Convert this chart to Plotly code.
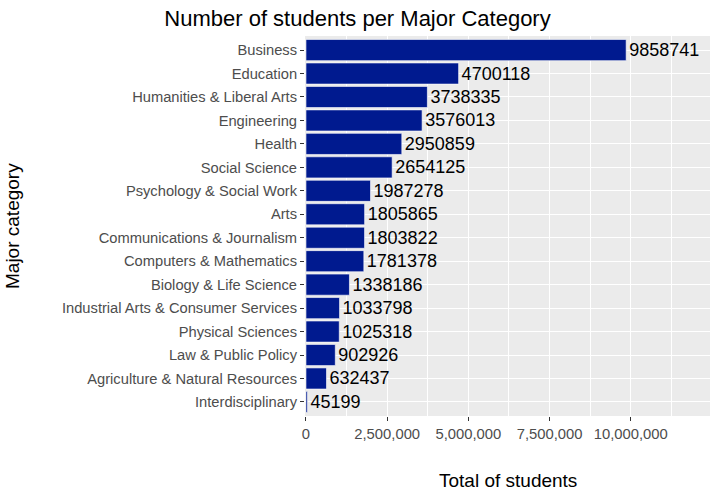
import plotly.graph_objects as go

categories = ["Business", "Education", "Humanities & Liberal Arts", "Engineering", "Health",
              "Social Science", "Psychology & Social Work", "Arts", "Communications & Journalism",
              "Computers & Mathematics", "Biology & Life Science", "Industrial Arts & Consumer Services",
              "Physical Sciences", "Law & Public Policy", "Agriculture & Natural Resources",
              "Interdisciplinary"]
totals = [9858741, 4700118, 3738335, 3576013, 2950859, 2654125, 1987278, 1805865, 1803822,
          1781378, 1338186, 1033798, 1025318, 902926, 632437, 45199]
x_tickvals = [0, 2500000, 5000000, 7500000, 10000000]
x_ticktext = ["0", "2,500,000", "5,000,000", "7,500,000", "10,000,000"]

FONT = "Liberation Sans, Arial, Helvetica, sans-serif"
cats_rev = categories[::-1]

fig = go.Figure(go.Bar(
    x=totals, y=categories, orientation="h",
    marker=dict(color="#001a8f", line=dict(color="white", width=0.6)),
    width=0.9,
    text=[str(v) for v in totals], textposition="outside",
    textfont=dict(family=FONT, size=18, color="black"),
    cliponaxis=False,
))

fig.update_layout(
    width=715, height=492,
    margin=dict(l=305, r=5, t=36, b=76, autoexpand=False),
    paper_bgcolor="white", plot_bgcolor="#ebebeb",
    font=dict(family=FONT),
    title=dict(text="Number of students per Major Category", x=0.5, xanchor="center",
               y=1 - 18 / 492, yanchor="middle", font=dict(size=22, color="black")),
    showlegend=False,
    bargap=0.1,
)
fig.update_xaxes(
    range=[-30000, 12440000], tickvals=x_tickvals, ticktext=x_ticktext,
    showgrid=True, gridcolor="white", gridwidth=1.1,
    minor=dict(dtick=1250000, tick0=0, showgrid=True, gridcolor="white", gridwidth=0.5, ticks=""),
    ticks="outside", ticklen=4, tickcolor="#333333", tickwidth=1,
    tickfont=dict(size=14.8, color="#4d4d4d"), zeroline=False, showline=False,
    automargin=False,
)
fig.update_yaxes(
    categoryorder="array", categoryarray=cats_rev, range=[-0.6, 15.6],
    showgrid=True, gridcolor="white", gridwidth=1.1,
    ticks="outside", ticklen=4, tickcolor="#333333", tickwidth=1,
    tickfont=dict(size=14.7, color="#4d4d4d"), zeroline=False, showline=False,
    automargin=False,
)
fig.add_annotation(text="Total of students", xref="paper", yref="paper", x=0.5, y=0,
                   xanchor="center", yanchor="middle", yshift=-(480 - 416), showarrow=False,
                   font=dict(size=19, color="black"))
fig.add_annotation(text="Major category", xref="paper", yref="paper", x=0, y=0.5,
                   xanchor="center", yanchor="middle", xshift=-(305 - 12), textangle=-90,
                   showarrow=False, font=dict(size=19, color="black"))

fig.write_html("out.html", config={"displayModeBar": False},
               post_script="document.body.style.margin='0';")
